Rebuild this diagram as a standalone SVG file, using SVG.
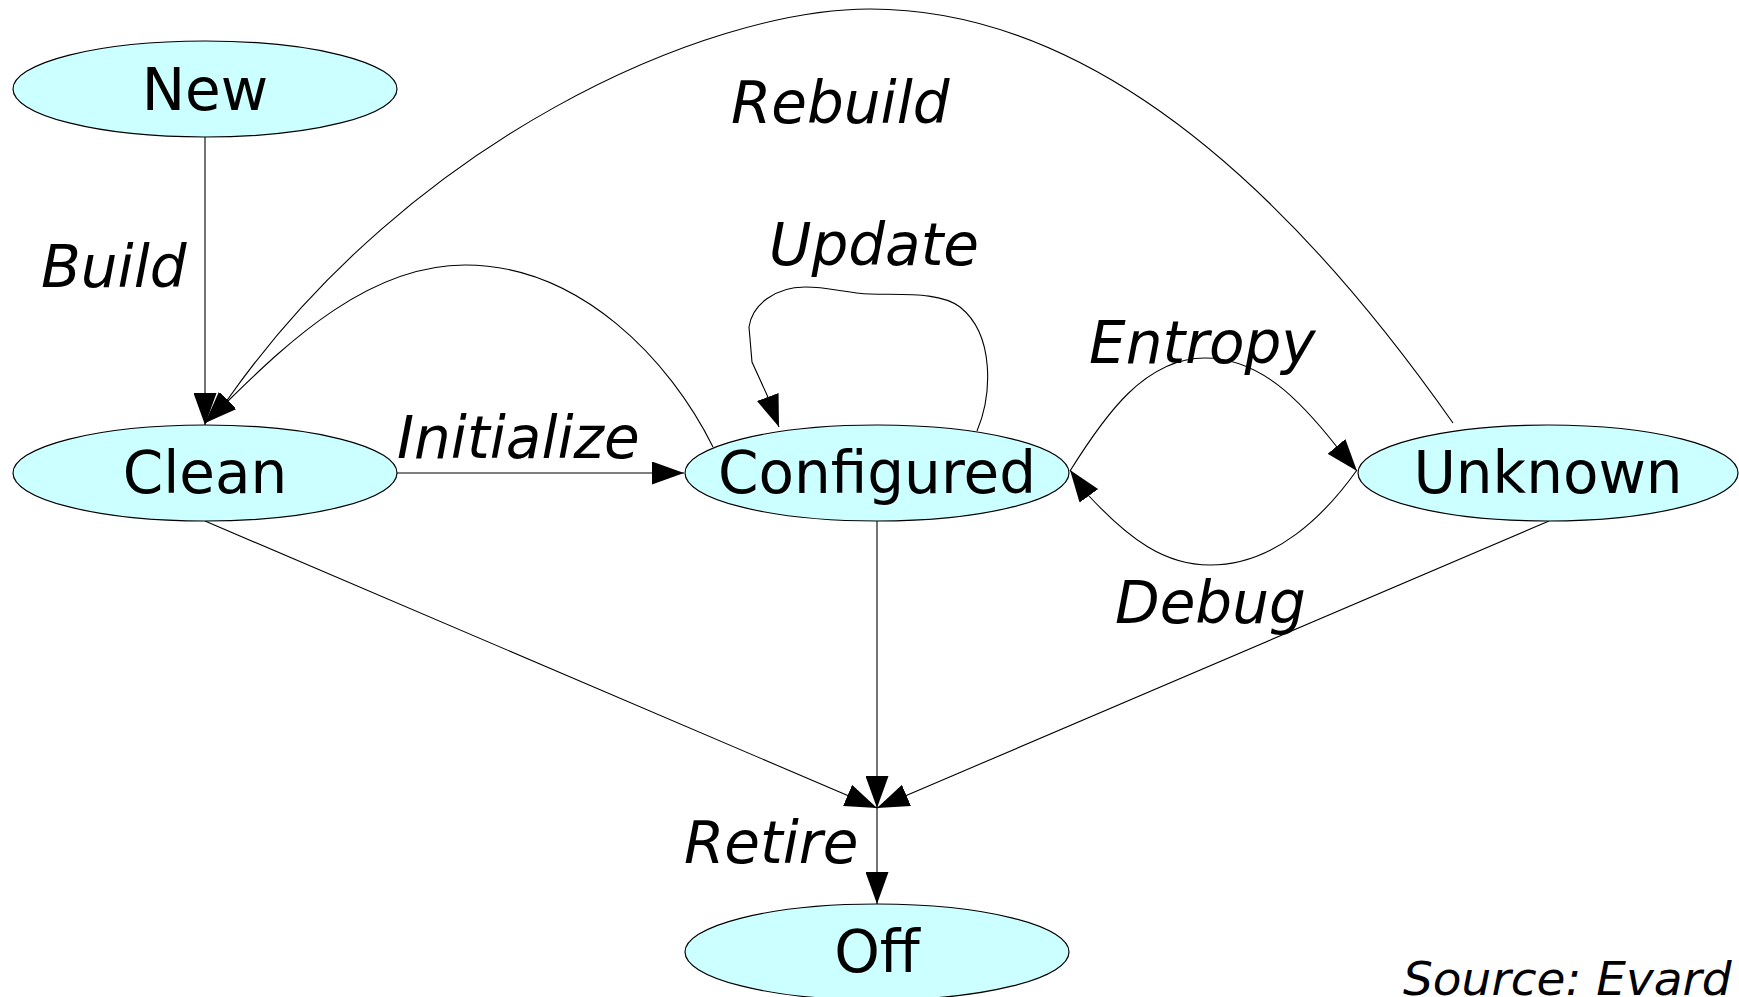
<svg xmlns="http://www.w3.org/2000/svg" width="1739" height="997" viewBox="0 0 1739 997">
<style>
.node ellipse{fill:#ccffff;stroke:#000;stroke-width:1.2}
.node text{font-family:"DejaVu Sans",sans-serif;font-size:58px;text-anchor:middle;fill:#000}
.edge{fill:none;stroke:#000;stroke-width:1.1;marker-end:url(#ah)}
.lbl{font-family:"DejaVu Sans",sans-serif;font-style:italic;font-size:58px;fill:#000}
</style>
<defs>
<marker id="ah" viewBox="0 0 32 23" refX="32" refY="11.5" markerWidth="32" markerHeight="23" markerUnits="userSpaceOnUse" orient="auto">
<path d="M0,0 L32,11.5 L0,23 z" fill="#000"/>
</marker>
</defs>
<rect width="1739" height="997" fill="#fff"/>
<g id="connectors">
<path class="edge" d="M205,137 L205,425"/>
<path class="edge" d="M1453,423 Q1162,9 870,9 C705,9 410,140 228,399 L205,423"/>
<path class="edge" d="M713,447 C670,360 580,265 465,265 C370,265 290,340 228,401 L205,423"/>
<path class="edge" d="M397,473 L684,473"/>
<path class="edge" d="M977,431 C992,395 995,335 960,307 C940,292 905,295 870,294 C845,293 830,287 805,287 C775,287 752,305 749,327 L752,362 L767,395 L779,427"/>
<path class="edge" d="M1070,471 C1105,415 1145,358 1205,358 C1260,358 1300,400 1337,447 L1357,471"/>
<path class="edge" d="M1357,470 C1325,515 1275,565 1210,565 C1165,565 1130,540 1089,496 L1070,470"/>
<path class="edge" d="M205,521 L877,808"/>
<path class="edge" d="M877,521 L877,808"/>
<path class="edge" d="M1549,521 L877,808"/>
<path class="edge" d="M877,808 L877,904"/>
</g>
<g id="labels">
<text class="lbl" x="41" y="287">Build</text>
<text class="lbl" x="731" y="123">Rebuild</text>
<text class="lbl" x="769" y="265">Update</text>
<text class="lbl" x="1089" y="363">Entropy</text>
<text class="lbl" x="397" y="458">Initialize</text>
<text class="lbl" x="1115" y="623">Debug</text>
<text class="lbl" x="684" y="863">Retire</text>
<text class="lbl" x="1403" y="995" style="font-size:47px">Source: Evard</text>
</g>
<g id="node-new" class="node"><ellipse cx="205" cy="89" rx="192" ry="48"/><text x="205" y="110">New</text></g>
<g id="node-clean" class="node"><ellipse cx="205" cy="473" rx="192" ry="48"/><text x="205" y="493">Clean</text></g>
<g id="node-configured" class="node"><ellipse cx="877" cy="473" rx="192" ry="48"/><text x="877" y="493">Configured</text></g>
<g id="node-unknown" class="node"><ellipse cx="1548" cy="473" rx="190" ry="48"/><text x="1548" y="493">Unknown</text></g>
<g id="node-off" class="node"><ellipse cx="877" cy="952" rx="192" ry="48"/><text x="877" y="972">Off</text></g>
</svg>
